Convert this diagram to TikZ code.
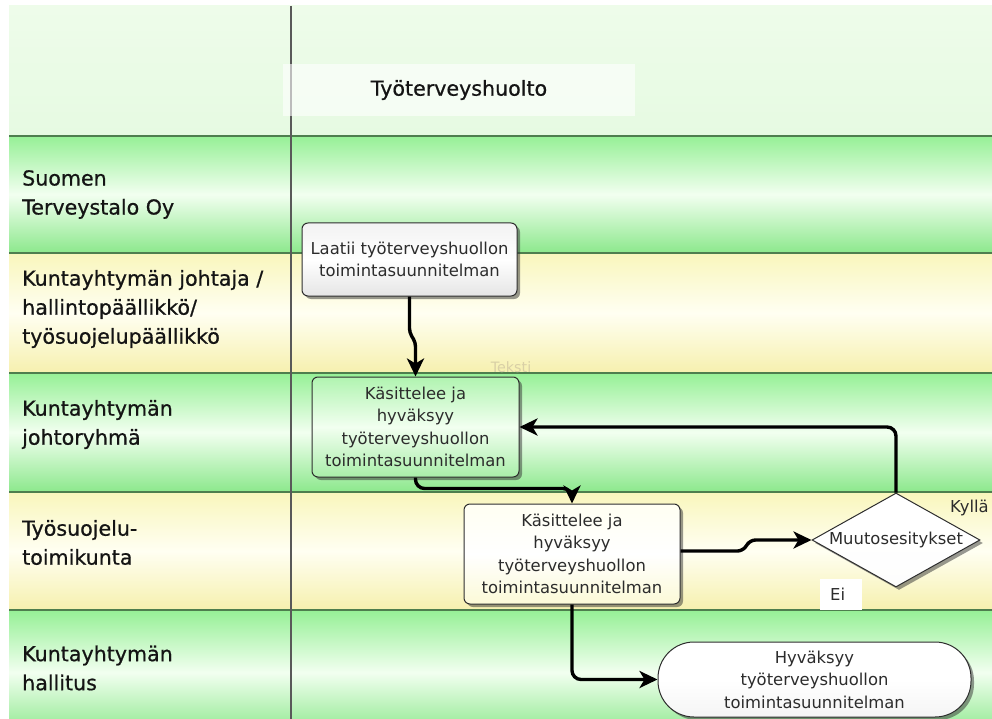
\documentclass[tikz,border=0pt]{standalone}
\usepackage{fontspec}
\setmainfont{DejaVu Sans}
\newfontfamily\lanefont[FakeBold=0.7]{DejaVu Sans}
\usetikzlibrary{arrows.meta,shapes.geometric,shadows}

\definecolor{laneline}{HTML}{4E7E4E}
\definecolor{gtop}{HTML}{96F096}
\definecolor{gbot}{HTML}{8CE88C}
\definecolor{gmid}{HTML}{F2FFF0}
\definecolor{ytop}{HTML}{F9F6BC}
\definecolor{ybot}{HTML}{F6F0AE}
\definecolor{ymid}{HTML}{FFFFF2}
\definecolor{hdrtop}{HTML}{EEFCEA}
\definecolor{hdrbot}{HTML}{E6FAE2}
\definecolor{ink}{HTML}{141414}
\definecolor{boxink}{HTML}{2C2C2C}
\definecolor{faint}{HTML}{D9D0A6}
\definecolor{edge}{HTML}{2E2E2E}

\begin{document}
\begin{tikzpicture}[x=1pt,y=-1pt,
  lanelabel/.style={anchor=west, align=left, inner sep=0pt, text=ink,
    font=\lanefont\fontsize{20.6}{29}\selectfont},
  greenlane/.style={top color=gtop, bottom color=gbot, middle color=gmid},
  yellowlane/.style={top color=ytop, bottom color=ybot, middle color=ymid},
  sep/.style={draw=laneline, line width=2pt},
  shade box/.style={drop shadow={shadow xshift=3pt, shadow yshift=-3pt,
    opacity=0.5, fill=black!80}},
  task/.style={draw=edge, line width=1pt, rounded corners=6pt, align=center,
    inner sep=0pt, text=boxink, font=\fontsize{16.4}{22.4}\selectfont, shade box},
  decision/.style={diamond, draw=edge, line width=1pt, inner sep=0pt,
    minimum width=168pt, minimum height=94pt, shade box},
  plain/.style={inner sep=0pt, text=boxink, font=\fontsize{16.4}{20}\selectfont},
  flow/.style={line width=3.4pt, -{Stealth[length=18pt,width=17pt,inset=5pt]},
    rounded corners=9pt},
]
\clip (0,0) rectangle (992,719);
\fill[white] (0,0) rectangle (992,719);

% swimlane bands
\shade[top color=hdrtop, bottom color=hdrbot] (9,6) rectangle (992,136);
\shade[greenlane]  (9,136) rectangle (992,253);
\shade[yellowlane] (9,253) rectangle (992,373);
\shade[greenlane]  (9,373) rectangle (992,492);
\shade[yellowlane] (9,492) rectangle (992,610);
\shade[greenlane]  (9,610) rectangle (992,735);

% band separators and the label column divider
\foreach \yy in {136,253,373,492,610}
  \draw[sep] (9,\yy) -- (992,\yy);
\draw[black!65, line width=1.3pt] (291,6) -- (291,719);

% column header
\node[fill=white, fill opacity=0.6, text opacity=1, minimum width=352pt,
  minimum height=52pt, text=ink, font=\lanefont\fontsize{20.6}{24}\selectfont]
  (title) at (459,90) {Työterveyshuolto};

% lane labels
\node[lanelabel] (l1) at (22,194.5) {Suomen\\Terveystalo Oy};
\node[lanelabel] (l2) at (22,309) {Kuntayhtymän johtaja /\\hallintopäällikkö/\\työsuojelupäällikkö};
\node[lanelabel] (l3) at (22,424.5) {Kuntayhtymän\\johtoryhmä};
\node[lanelabel] (l4) at (22,542.5) {Työsuojelu-\\toimikunta};
\node[lanelabel] (l5) at (22,668) {Kuntayhtymän\\hallitus};

% process steps
\node[task, minimum width=215pt, minimum height=73pt,
  top color=black!5, bottom color=black!10, middle color=white]
  (A) at (409.5,259.5) {Laatii työterveyshuollon\\toimintasuunnitelman};
\node[task, minimum width=207pt, minimum height=100pt,
  top color=gtop!75, bottom color=gbot!75, middle color=gmid]
  (B) at (415.5,427) {Käsittelee ja\\hyväksyy\\työterveyshuollon\\toimintasuunnitelman};
\node[task, minimum width=216pt, minimum height=100pt,
  top color=ymid, bottom color=ytop!60, middle color=white]
  (C) at (572,554) {Käsittelee ja\\hyväksyy\\työterveyshuollon\\toimintasuunnitelman};
\node[decision, top color=white, bottom color=ymid!80!black!4, middle color=white,
  label={[plain]center:Muutosesitykset}] (M) at (896,540) {};
\node[task, rounded corners=36pt, minimum width=313pt, minimum height=75pt,
  top color=white, bottom color=black!4, middle color=white]
  (D) at (814.5,679.5) {Hyväksyy\\työterveyshuollon\\toimintasuunnitelman};

% free labels
\node[inner sep=0pt, text=faint, font=\fontsize{14.3}{16}\selectfont]
  (teksti) at (511,367) {Teksti};
\node[plain, anchor=west] (kylla) at (950,508) {Kyllä};
\node[plain, anchor=north west, fill=white, inner xsep=10pt,
  minimum height=31pt, text width=22pt] (ei) at (820,579) {Ei};

% connectors
\draw[flow, rounded corners=4pt] (A.south) -- ++(0,36) -- ++(6,10) -- (B.north);
\draw[flow] (B.south) |- ([yshift=15pt]C.north) -- (C.north);
\draw[flow, rounded corners=5pt] ([yshift=3pt]C.east) -- ++(62,0) -- ++(8,-11) -- (M.west);
\draw[flow] (M.north) |- (B.east);
\draw[flow] (C.south) |- (D.west);
\end{tikzpicture}
\end{document}
